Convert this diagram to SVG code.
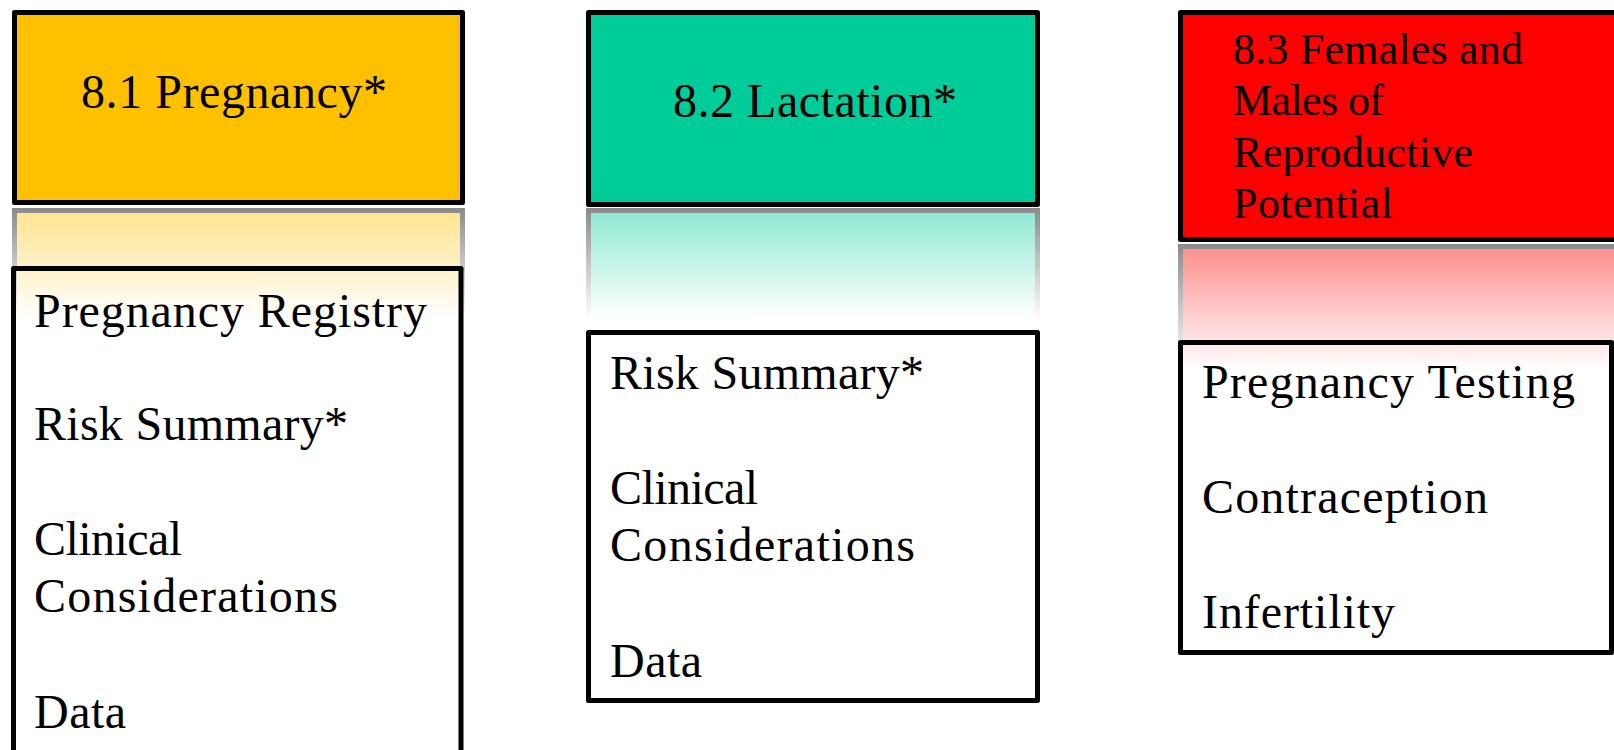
<svg xmlns="http://www.w3.org/2000/svg" width="1614" height="750" viewBox="0 0 1614 750">
  <style>
    .box { stroke: #000; stroke-width: 5; stroke-linejoin: round; }
    .body { fill: none; stroke: #000; stroke-width: 5; stroke-linejoin: round; }
    .hd { font-family: "Liberation Serif", "Times New Roman", serif; font-size: 48px; fill: #000; }
    .hd3 { font-family: "Liberation Serif", "Times New Roman", serif; font-size: 44px; fill: #000; }
    .item { font-family: "Liberation Serif", "Times New Roman", serif; font-size: 48px; fill: #000; }
    .refl { stroke: #000; stroke-width: 5; }
  </style>
  <defs>
    <!-- vertical fade used for the mirrored copies under each heading -->
    <linearGradient id="fade" x1="0" y1="0" x2="0" y2="1">
      <stop offset="0" stop-color="#fff" stop-opacity="0.46"/>
      <stop offset="1" stop-color="#fff" stop-opacity="0"/>
    </linearGradient>
    <filter id="soft" x="-5%" y="-5%" width="110%" height="110%">
      <feGaussianBlur stdDeviation="0.7"/>
    </filter>
    <mask id="fade1" maskUnits="userSpaceOnUse" x="0" y="207" width="490" height="112">
      <rect x="0" y="207" width="490" height="112" fill="url(#fade)"/>
    </mask>
    <mask id="fade2" maskUnits="userSpaceOnUse" x="570" y="207" width="490" height="112">
      <rect x="570" y="207" width="490" height="112" fill="url(#fade)"/>
    </mask>
    <mask id="fade3" maskUnits="userSpaceOnUse" x="1160" y="243" width="460" height="127">
      <rect x="1160" y="243" width="460" height="127" fill="url(#fade)"/>
    </mask>
  </defs>

  <rect width="1614" height="750" fill="#fff"/>

  <!-- 8.1 Pregnancy -->
  <g id="pregnancy">
    <g filter="url(#soft)">
      <rect class="refl" x="14.5" y="210.5" width="448" height="190" fill="#FFC000" mask="url(#fade1)"/>
    </g>
    <rect class="box" x="14.5" y="12.5" width="448" height="190" fill="#FFC000"/>
    <text class="hd" x="81" y="108" textLength="306">8.1 Pregnancy*</text>
  </g>
  <g id="pregnancy-topics">
    <rect class="body" x="13.5" y="268.5" width="447.5" height="520"/>
    <text class="item" x="34" y="327" textLength="393">Pregnancy Registry</text>
    <text class="item" x="34" y="440" textLength="314">Risk Summary*</text>
    <text class="item" x="34" y="555" textLength="148">Clinical</text>
    <text class="item" x="34" y="612" textLength="304">Considerations</text>
    <text class="item" x="34" y="728" textLength="92">Data</text>
  </g>

  <!-- 8.2 Lactation -->
  <g id="lactation">
    <g filter="url(#soft)">
      <rect class="refl" x="588.5" y="210.5" width="449" height="192" fill="#00CC99" mask="url(#fade2)"/>
    </g>
    <rect class="box" x="588.5" y="12.5" width="449" height="192" fill="#00CC99"/>
    <text class="hd" x="673" y="117" textLength="284">8.2 Lactation*</text>
  </g>
  <g id="lactation-topics">
    <rect class="body" x="588.5" y="332.5" width="449" height="368" fill="#fff"/>
    <text class="item" x="610" y="389" textLength="314">Risk Summary*</text>
    <text class="item" x="610" y="504" textLength="148">Clinical</text>
    <text class="item" x="610" y="561" textLength="305">Considerations</text>
    <text class="item" x="610" y="677" textLength="92">Data</text>
  </g>

  <!-- 8.3 Females and Males of Reproductive Potential -->
  <g id="reproductive-potential">
    <g filter="url(#soft)">
      <rect class="refl" x="1180.5" y="246.5" width="460" height="227" fill="#FF0000" mask="url(#fade3)"/>
    </g>
    <rect class="box" x="1180.5" y="12.5" width="460" height="227" fill="#FF0000"/>
    <text class="hd3" x="1233" y="64" textLength="290">8.3 Females and</text>
    <text class="hd3" x="1233" y="115" textLength="151">Males of</text>
    <text class="hd3" x="1233" y="167" textLength="240">Reproductive</text>
    <text class="hd3" x="1233" y="218" textLength="160">Potential</text>
  </g>
  <g id="reproductive-topics">
    <rect class="body" x="1180.5" y="342.5" width="431" height="310"/>
    <text class="item" x="1202" y="398" textLength="373">Pregnancy Testing</text>
    <text class="item" x="1202" y="513" textLength="286">Contraception</text>
    <text class="item" x="1202" y="628" textLength="193">Infertility</text>
  </g>
</svg>
